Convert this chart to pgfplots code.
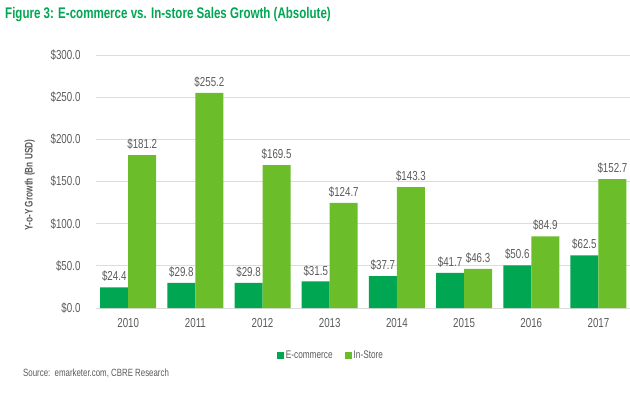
\documentclass[border=0pt]{standalone}
\usepackage{pgfplots}
\pgfplotsset{compat=1.18}
\usetikzlibrary{calc}
\usepackage{fontspec}
\setmainfont{Liberation Sans}[FakeStretch=0.75]
\definecolor{ecom}{HTML}{00A651}
\definecolor{instore}{HTML}{6BBD2A}
\definecolor{titlegreen}{HTML}{00A651}
\definecolor{txt}{HTML}{5A5A5A}
\definecolor{gridc}{HTML}{DCDCDC}
\begin{document}
\begin{tikzpicture}[x=1pt,y=1pt]
\begin{axis}[
  scale only axis, width=534pt, height=253pt,
  xmin=-0.48, xmax=7.47, ymin=0, ymax=300,
  xtick={0,...,7}, xticklabels={2010,2011,2012,2013,2014,2015,2016,2017},
  ytick={0,50,...,300},
  yticklabel={\$\pgfmathprintnumber[fixed,fixed zerofill,precision=1]{\tick}},
  /pgf/number format/assume math mode=true,
  ymajorgrids, grid style={gridc, line width=0.8pt},
  axis lines*=left,
  x axis line style={gridc, line width=0.8pt, -},
  y axis line style={draw=none},
  major tick length=0pt,
  tick label style={text=txt, font=\fontsize{13}{15}\selectfont},
  xticklabel style={yshift=-7pt},
  yticklabel style={xshift=-12pt},
  ylabel={Y-o-Y Growth (Bn USD)},
  ylabel style={at={(axis description cs:-0.124,0.486)}, anchor=center, text=txt, font=\bfseries\fontsize{11}{13}\selectfont},
  ybar, bar width=28pt,
  nodes near coords={\$\pgfmathprintnumber[fixed,fixed zerofill,precision=1]{\pgfplotspointmeta}},
  nodes near coords style={text=txt, font=\fontsize{13}{15}\selectfont, yshift=2pt},
  legend style={at={(axis description cs:0.44,-0.186)}, anchor=center, draw=none, fill=none, legend columns=2, font=\fontsize{11}{13}\selectfont, text=txt, /tikz/every even column/.append style={column sep=10pt}},
  legend image code/.code={\fill[#1] (0pt,-3.5pt) rectangle (7pt,3.5pt);},
]
\addplot[fill=ecom, draw=none, bar shift=-14pt] coordinates {(0,24.4) (1,29.8) (2,29.8) (3,31.5) (4,37.7) (5,41.7) (6,50.6) (7,62.5)};
\addplot[fill=instore, draw=none, bar shift=14pt] coordinates {(0,181.2) (1,255.2) (2,169.5) (3,124.7) (4,143.3) (5,46.3) (6,84.9) (7,152.7)};
\legend{E-commerce, In-Store}
\coordinate (O) at (rel axis cs:0,0);
\end{axis}
\coordinate (BL) at ($(O)+(-96,-89)$);
\pgfresetboundingbox
\path[use as bounding box] (BL) rectangle ++(630,397);
\node[anchor=west, font=\bfseries\fontsize{15.4}{18}\selectfont, text=titlegreen, inner sep=0] at ($(BL)+(5,382)$) {Figure 3: E-commerce vs. In-store Sales Growth (Absolute)};
\node[anchor=west, font=\fontsize{10.5}{12}\selectfont, text=txt, inner sep=0] at ($(BL)+(23,24)$) {Source:\ \ emarketer.com, CBRE Research};
\end{tikzpicture}
\end{document}
